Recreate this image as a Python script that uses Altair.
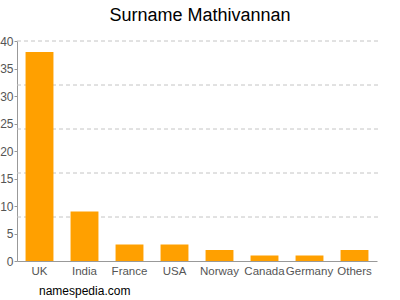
import altair as alt
import pandas as pd

countries = ["UK", "India", "France", "USA", "Norway", "Canada", "Germany", "Others"]
counts = [38, 9, 3, 3, 2, 1, 1, 2]
grid_values = [8, 16, 24, 32, 40]
y_ticks = [0, 5, 10, 15, 20, 25, 30, 35, 40]

df = pd.DataFrame({"country": countries, "count": counts})
grid_df = pd.DataFrame({"g": grid_values})

FONT = "Liberation Sans"

x_enc = alt.X("country:N", sort=countries, title=None,
              scale=alt.Scale(paddingInner=0.38, paddingOuter=0.19),
              axis=alt.Axis(labelAngle=0, ticks=False, domainColor="#999", labelColor="#555",
                            labelFont=FONT, labelFontSize=11.5, labelPadding=4))
y_scale = alt.Scale(domain=[0, 40], nice=False)
y_axis = alt.Axis(values=y_ticks, grid=False, domainColor="#999", tickColor="#999",
                  tickSize=3, labelColor="#555", labelFont=FONT, labelFontSize=12,
                  labelPadding=1, labelOverlap=False)

grid = alt.Chart(grid_df).mark_rule(color="#c4c4c4", strokeDash=[4, 3], strokeWidth=1).encode(
    y=alt.Y("g:Q", scale=y_scale, title=None, axis=y_axis),
    x=alt.value(0), x2=alt.value(362),
)

bars = alt.Chart(df).mark_bar(color="#FFA000").encode(
    x=x_enc,
    y=alt.Y("count:Q", scale=y_scale, title=None, axis=y_axis),
)

footer = alt.Chart(pd.DataFrame({"t": ["namespedia.com"]})).mark_text(
    align="left", baseline="middle", font=FONT, fontSize=12, color="#000"
).encode(text="t:N", x=alt.value(22), y=alt.value(250))

chart = alt.layer(grid, bars, footer).properties(
    width=360, height=220,
    autosize=alt.AutoSizeParams(type="none"),
    padding={"left": 17, "top": 41, "right": 23, "bottom": 39},
    title=alt.TitleParams("Surname Mathivannan", font=FONT, fontSize=18, fontWeight="normal",
                          color="#000", anchor="middle", offset=10, dx=3),
).configure_view(stroke=None)

chart.save("out.html", embed_options={"renderer": "svg", "actions": False})
